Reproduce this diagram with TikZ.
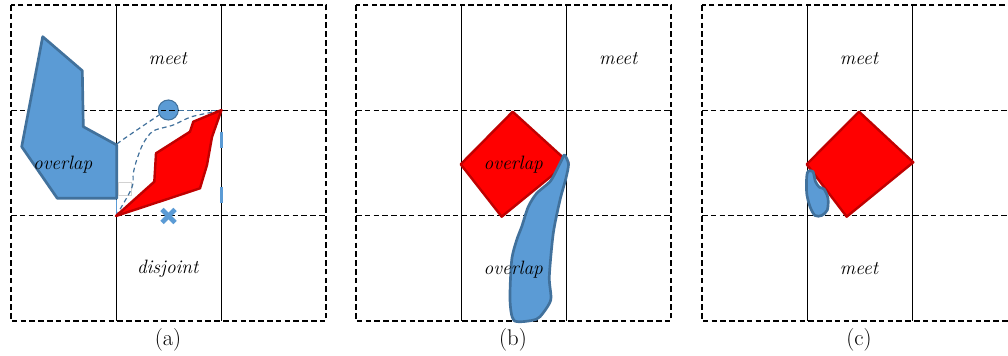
\documentclass[tikz,border=0pt]{standalone}
\begin{document}
\definecolor{blueF}{HTML}{5B9BD5}
\definecolor{blueD}{HTML}{41719C}
\definecolor{redD}{HTML}{C00000}
\begin{tikzpicture}[x=0.75pt,y=-0.75pt,
  gridd/.style={black,line width=0.9pt,dash pattern=on 4.2pt off 2.4pt},
  gridv/.style={black,line width=0.8pt},
  bluesh/.style={fill=blueF,draw=blueD,line width=2pt,line join=round},
  redsh/.style={fill=red,draw=redD,line width=1.8pt,line join=round},
  guide/.style={blueD,line width=0.9pt,dash pattern=on 3.5pt off 2.5pt},
  lbl/.style={font=\fontsize{14.5}{16}\selectfont\itshape,inner sep=0pt},
  captxt/.style={font=\fontsize{17}{19}\selectfont,inner sep=0pt}]
\useasboundingbox (0,0) rectangle (1008,356);
\fill[white] (0,0) rectangle (1008,356);
% ---------------- panel (a) shapes under the grid
\node[circle,fill=blueF,draw=blueD,line width=0.8pt,minimum size=20pt*0.75,inner sep=0pt] (circ) at (168.3,110) {};
% grids
\foreach \ox/\nm in {11/a,356/b,702/c}{
  \begin{scope}[shift={(\ox,0)}]
    \clip (-5,0) rectangle (1008-\ox,356);
    \draw[gridd] (0,5) rectangle (315,321);
    \draw[gridd] (0,110.3) -- (315,110.3);
    \draw[gridd] (0,215.7) -- (315,215.7);
    \draw[gridv] (105.3,5) -- (105.3,321);
    \draw[gridv] (210.6,5) -- (210.6,321);
  \end{scope}
}
% ---------------- panel (a)
\draw[bluesh] (42.7,36.7) -- (82.3,70.7) -- (83.3,126.7) -- (116.7,145) -- (116.7,198.3) -- (57.3,198.3) -- (21.7,146.7) -- cycle;
\draw[gray!35,line width=0.5pt] (118.3,182.7) rectangle (131.7,195);
\draw[blueF,line width=0.6pt] (116.3,200) -- (116.3,215);
\draw[guide] (116.7,144) .. controls (132,133) and (146,124) .. (159,115);
\draw[guide] (179,110.8) -- (221,110.8);
\draw[guide] plot[smooth,tension=0.5] coordinates {(116,216) (131.7,188.3) (133.3,173.3) (136.7,160) (143.3,143.3) (153.3,131) (173.3,125) (191.7,116.7) (220,110.7)};
\draw[redsh] (116,216) -- (154.3,181.7) -- (156,153.3) -- (190,131.7) -- (193.3,121.7) -- (221.5,110) -- (212,137) -- (207,165) -- (200,188.3) -- cycle;
\draw[blueF,line width=2.2pt] (221.5,131.7) -- (221.5,148.3);
\draw[blueF,line width=2.2pt] (221.5,186.7) -- (221.5,203.3);
\draw[blueF,line width=3.6pt] (162,209.5) -- (175,222.5);
\draw[blueF,line width=3.6pt] (162,222.5) -- (175,209.5);
\node[lbl] (ameet) at (167.7,58.5) {meet};
\node[lbl] (aover) at (62.7,164.3) {overlap};
\node[lbl] (adisj) at (167.7,268.5) {disjoint};
\node[captxt] (capa) at (168,340) {(a)};
% ---------------- panel (b)
\draw[redsh] (512.7,111.7) -- (568.3,162.3) -- (501.7,216.7) -- (460.7,164.3) -- cycle;
\node[lbl] (bover1) at (513.3,164.3) {overlap};
\draw[bluesh] plot[smooth cycle,tension=0.45] coordinates {(564.5,155) (568.5,164) (566,178) (560,200) (553.3,233) (549.3,276.7) (550.7,300) (540,316.7) (531.7,320.5) (514,320.5) (510,300) (511.7,260) (516.7,240) (521.7,226.7) (528.3,206.7) (536.7,193.3) (550,181.7) (556.7,170) (561.7,160)};
\node[lbl] (bmeet) at (618.3,58.5) {meet};
\node[lbl] (bover2) at (513.3,269.5) {overlap};
\node[captxt] (capb) at (513,340) {(b)};
% ---------------- panel (c)
\draw[redsh] (859,111.7) -- (913.3,162.3) -- (846.7,216.7) -- (806.7,164.3) -- cycle;
\draw[bluesh] plot[smooth cycle,tension=0.5] coordinates {(808.3,171.2) (813,171.7) (815.5,181.7) (819.5,187.3) (824,189) (828,198.3) (827.3,210) (821.7,215.5) (815,215.5) (810,206.7) (806.7,193.3) (806.7,176.7)};
\node[lbl] (cmeet1) at (859,58.5) {meet};
\node[lbl] (cmeet2) at (859,268.5) {meet};
\node[captxt] (capc) at (859,340) {(c)};
\end{tikzpicture}
\end{document}
